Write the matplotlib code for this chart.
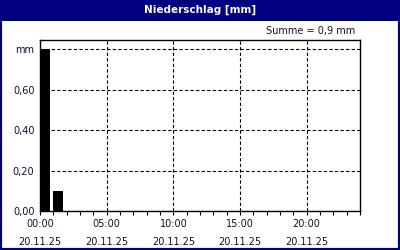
import matplotlib.pyplot as plt
from matplotlib.patches import Rectangle

# hourly precipitation, 20.11.25
hours = [0, 1]
niederschlag = [0.8, 0.1]
summe = 0.9
xticks = [0, 5, 10, 15, 20]
xlabels = ["00:00\n20.11.25", "05:00\n20.11.25", "10:00\n20.11.25",
           "15:00\n20.11.25", "20:00\n20.11.25"]
yticks = [0.0, 0.2, 0.4, 0.6, 0.8]
ylabels = ["0,00", "0,20", "0,40", "0,60", "mm"]

navy = "#000080"
txt = "#101030"

fig = plt.figure(figsize=(4, 2.5), dpi=100)
fig.patch.set_facecolor("white")

# navy frame and title bar
fig.patches.append(Rectangle((0, 0), 1, 1, transform=fig.transFigure,
                             fill=False, edgecolor=navy, linewidth=3))
fig.patches.append(Rectangle((0, 1 - 21 / 250), 1, 21 / 250, transform=fig.transFigure,
                             facecolor=navy, edgecolor="none"))
fig.text(0.5, 1 - 10 / 250, "Niederschlag [mm]", color="white", ha="center", va="center",
         fontsize=7.5, fontweight="bold")
fig.text(355 / 400, 1 - 31 / 250, f"Summe = {summe:.1f} mm".replace(".", ","),
         color=txt, ha="right", va="center", fontsize=7)

ax = fig.add_axes([40 / 400, 1 - 211 / 250, 320 / 400, 171 / 250])
ax.bar(hours, niederschlag, width=0.75, align="edge", color="black")

ax.set_xlim(0, 24)
ax.set_ylim(0, 0.845)
ax.set_xticks(xticks)
ax.set_xticklabels(xlabels)
ax.set_xticks(range(0, 25), minor=True)
ax.set_yticks(yticks)
ax.set_yticklabels(ylabels)

ax.grid(True, which="major", color="black", linestyle=(0, (3, 2)), linewidth=0.8)
ax.tick_params(axis="x", which="major", length=3, width=0.8, direction="out",
               labelsize=7, colors="black", labelcolor=txt, pad=3)
ax.tick_params(axis="x", which="minor", length=3, width=0.8, direction="out")
ax.tick_params(axis="y", length=0, labelsize=7, labelcolor=txt, pad=4)
for lbl in ax.get_xticklabels():
    lbl.set_linespacing(1.9)
for s in ax.spines.values():
    s.set_color("black")
    s.set_linewidth(1)

fig.savefig("out.png", dpi=100)
